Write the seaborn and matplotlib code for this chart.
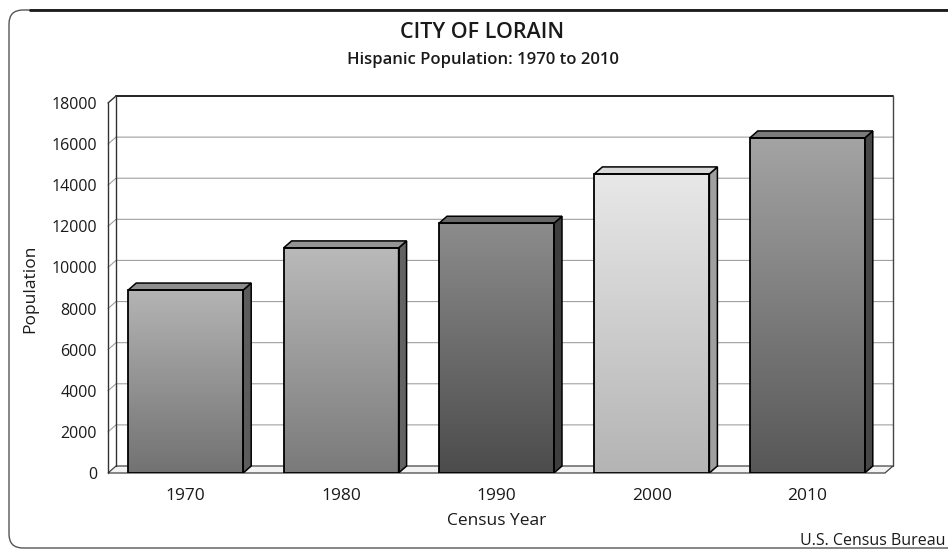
import numpy as np
import pandas as pd
import matplotlib
matplotlib.use("Agg")
import matplotlib.pyplot as plt
import seaborn as sns
from matplotlib.patches import Polygon, FancyBboxPatch
from matplotlib.colors import LinearSegmentedColormap
from matplotlib.transforms import IdentityTransform

# Census counts of the Hispanic population, City of Lorain
years = ["1970", "1980", "1990", "2000", "2010"]
population = [8900, 10950, 12150, 14550, 16300]
ytick_values = [0, 2000, 4000, 6000, 8000, 10000, 12000, 14000, 16000, 18000]

# Shading per bar: front gradient (top -> bottom), right side, top cap
front_top = ["#b4b4b4", "#bababa", "#8c8c8c", "#e8e8e8", "#a4a4a4"]
front_bottom = ["#727272", "#7a7a7a", "#4c4c4c", "#b4b4b4", "#575757"]
side_colors = ["#5c5c5c", "#626262", "#3e3e3e", "#a0a0a0", "#474747"]
cap_colors = ["#8e8e8e", "#949494", "#686868", "#d8d8d8", "#7a7a7a"]

sns.set_theme(style="white")
plt.rcParams["font.family"] = ["Open Sans", "DejaVu Sans"]

W, H = 948, 552
fig = plt.figure(figsize=(W / 100, H / 100), dpi=100)
fig.patch.set_facecolor("white")

# front plane of the plot area (pixels: x 108..885, y 103..473 from top)
ax = fig.add_axes([108 / W, (H - 473) / H, 777 / W, 370 / H])
df = pd.DataFrame({"year": years, "population": population})
sns.barplot(data=df, x="year", y="population", width=0.74, color="white",
            saturation=1, edgecolor="black", linewidth=1.3, ax=ax, zorder=4)
ax.set_xlim(-0.5, 4.5)
ax.set_ylim(0, 18000)
for s in ax.spines.values():
    s.set_visible(False)
ax.set_facecolor("none")

# depth offset of the 3-D look: 8 px right, 7 px up, expressed in data units
origin = ax.transData.transform((0, 0))
ddx, ddy = ax.transData.inverted().transform(origin + np.array([8.0, 7.0]))
x_lo, x_hi = -0.5, 4.5
y_top = ytick_values[-1]

# floor slab
ax.add_patch(Polygon([(x_lo, 0), (x_hi, 0), (x_hi + ddx, ddy), (x_lo + ddx, ddy)],
                     closed=True, facecolor="#f2f2f2", edgecolor="#444444",
                     linewidth=0.9, zorder=1, clip_on=False))

# gridlines on the back wall and the left wall
for yv in ytick_values[1:-1]:
    ax.plot([x_lo, x_lo + ddx, x_hi + ddx], [yv, yv + ddy, yv + ddy],
            color="#a0a0a0", linewidth=0.8, zorder=1, clip_on=False)

# back wall and left wall outlines
ax.plot([x_lo + ddx, x_hi + ddx], [y_top + ddy, y_top + ddy],
        color="#222222", linewidth=1.4, zorder=2, clip_on=False)
ax.plot([x_hi + ddx, x_hi + ddx], [ddy, y_top + ddy],
        color="#444444", linewidth=1.0, zorder=2, clip_on=False)
ax.plot([x_lo, x_lo], [0, y_top], color="#333333", linewidth=1.0,
        zorder=2, clip_on=False)
ax.plot([x_lo + ddx, x_lo + ddx], [ddy, y_top + ddy], color="#333333",
        linewidth=1.0, zorder=2, clip_on=False)
ax.plot([x_lo, x_lo + ddx], [y_top, y_top + ddy], color="#333333",
        linewidth=1.0, zorder=2, clip_on=False)

# shaded fronts plus side and top faces of each bar
grad = np.linspace(0, 1, 256).reshape(-1, 1)
for i, bar in enumerate(ax.patches[:len(years)]):
    x0, w, h = bar.get_x(), bar.get_width(), bar.get_height()
    cmap = LinearSegmentedColormap.from_list(f"bar{i}", [front_bottom[i], front_top[i]])
    im = ax.imshow(grad, extent=[x0, x0 + w, 0, h], origin="lower",
                   aspect="auto", cmap=cmap, zorder=3, interpolation="bilinear")
    im.set_clip_path(bar)
    bar.set_facecolor("none")
    ax.add_patch(Polygon([(x0 + w, 0), (x0 + w + ddx, ddy), (x0 + w + ddx, h + ddy), (x0 + w, h)],
                         closed=True, facecolor=side_colors[i], edgecolor="black",
                         linewidth=1.1, zorder=3.5))
    ax.add_patch(Polygon([(x0, h), (x0 + w, h), (x0 + w + ddx, h + ddy), (x0 + ddx, h + ddy)],
                         closed=True, facecolor=cap_colors[i], edgecolor="black",
                         linewidth=1.1, zorder=3.5))

ax.set_xlim(-0.5, 4.5)
ax.set_ylim(0, 18000)
ax.set_yticks(ytick_values)
ax.set_yticklabels([str(v) for v in ytick_values], fontsize=11.5, color="#1a1a1a")
ax.set_xticks(range(len(years)))
ax.set_xticklabels(years, fontsize=12.5, color="#1a1a1a")
ax.tick_params(axis="y", length=0, pad=8)
ax.tick_params(axis="x", length=0, pad=11)
ax.set_xlabel("")
ax.set_ylabel("")

# titles and axis labels
fig.text(482 / W, 1 - 33 / H, "CITY OF LORAIN", ha="center", va="center",
         fontsize=15.5, fontweight="semibold", color="#1a1a1a")
fig.text(483 / W, 1 - 60 / H, "Hispanic Population: 1970 to 2010", ha="center",
         va="center", fontsize=12, fontweight="semibold", color="#1a1a1a")
fig.text(30 / W, 1 - 289 / H, "Population", ha="center", va="center",
         rotation=90, fontsize=12.5, color="#1a1a1a")
fig.text(497 / W, 1 - 521 / H, "Census Year", ha="center", va="center",
         fontsize=12.5, color="#1a1a1a")
fig.text(800 / W, 1 - 541 / H, "U.S. Census Bureau", ha="left", va="center",
         fontsize=11.5, color="#1a1a1a")

# rounded outer frame (extends past the right edge)
frame = FancyBboxPatch((9, 4), 960, 538, boxstyle="round,pad=0,rounding_size=14",
                       transform=IdentityTransform(), facecolor="none",
                       edgecolor="#555555", linewidth=1.0)
fig.patches.append(frame)
fig.lines.append(plt.Line2D([30, 948], [542, 542], transform=IdentityTransform(),
                            color="#1a1a1a", linewidth=2.0))

fig.savefig("out.png", dpi=100)
